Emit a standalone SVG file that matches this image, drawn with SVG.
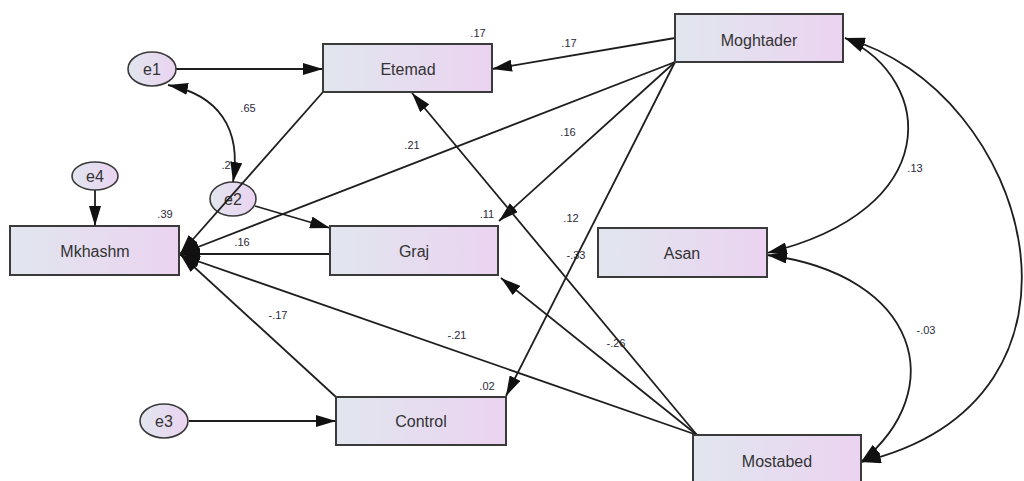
<svg xmlns="http://www.w3.org/2000/svg" width="1024" height="481" viewBox="0 0 1024 481">
<defs>
<linearGradient id="g" x1="0" y1="0" x2="1" y2="0">
<stop offset="0" stop-color="#e1e6ee"/>
<stop offset="1" stop-color="#ebd3f1"/>
</linearGradient>
<marker id="ah" viewBox="0 0 20 12" refX="20" refY="6" markerWidth="20" markerHeight="12" markerUnits="userSpaceOnUse" orient="auto-start-reverse">
<path d="M0,0 L20,6 L0,12 Z" fill="#111"/>
</marker>
</defs>
<style>
.box{fill:url(#g);stroke:#3a3a3a;stroke-width:2}
.ell{fill:url(#g);stroke:#3a3a3a;stroke-width:1.6}
.nt{font-family:"Liberation Sans",Arial,sans-serif;font-size:16px;fill:#333;text-anchor:middle;dominant-baseline:central}
.lb{font-family:"Liberation Sans",Arial,sans-serif;font-size:11px;fill:#2a2a3a;text-anchor:middle;dominant-baseline:central}
.c{fill:none;stroke:#1e1e1e;stroke-width:1.8;marker-end:url(#ah)}
.d{fill:none;stroke:#1e1e1e;stroke-width:1.8;marker-end:url(#ah);marker-start:url(#ah)}
</style>
<rect width="1024" height="481" fill="#fff"/>
<g id="e2"><ellipse class="ell" cx="233" cy="199" rx="23" ry="17"/><text class="nt" x="233" y="199">e2</text></g>
<g id="labels">
<text class="lb" x="478" y="33">.17</text>
<text class="lb" x="248" y="108">.65</text>
<text class="lb" x="226" y="165" fill="#6a5a40">.2</text>
<text class="lb" x="165" y="214">.39</text>
<text class="lb" x="242" y="242">.16</text>
<text class="lb" x="487" y="214">.11</text>
<text class="lb" x="569" y="43">.17</text>
<text class="lb" x="412" y="145">.21</text>
<text class="lb" x="568" y="132">.16</text>
<text class="lb" x="571" y="218">.12</text>
<text class="lb" x="576" y="255">-.33</text>
<text class="lb" x="616" y="343">-.26</text>
<text class="lb" x="278" y="315">-.17</text>
<text class="lb" x="457" y="335">-.21</text>
<text class="lb" x="487" y="386">.02</text>
<text class="lb" x="915" y="168">.13</text>
<text class="lb" x="926" y="330">-.03</text>
</g>
<g id="connectors">
<path class="c" d="M176,69 L323,69"/>
<path class="c" d="M189,421 L336,421"/>
<path class="c" d="M95,190 L95,226"/>
<path class="c" d="M255,206 L330,228"/>
<path class="d" d="M168,85 C218,95 242,128 233,182"/>
<path class="c" d="M675,38 L492,69"/>
<path class="c" d="M675,62 L180,254"/>
<path class="c" d="M675,62 L499,221"/>
<path class="c" d="M675,62 L506,396"/>
<path class="c" d="M323,92 L180,254"/>
<path class="c" d="M330,254 L180,254"/>
<path class="c" d="M336,397 L180,254"/>
<path class="c" d="M697,435 L180,255"/>
<path class="c" d="M697,435 L501,278"/>
<path class="c" d="M697,435 L412,93"/>
<path class="d" d="M845,38 C935,80 945,210 767,253"/>
<path class="d" d="M767,255 C920,275 950,390 861,462"/>
<path class="d" d="M845,38 C1030,90 1120,400 861,462"/>
</g>
<g id="e1"><ellipse class="ell" cx="152" cy="69" rx="24" ry="17"/><text class="nt" x="152" y="69">e1</text></g>
<g id="e3"><ellipse class="ell" cx="164" cy="421" rx="24" ry="17"/><text class="nt" x="164" y="421">e3</text></g>
<g id="e4"><ellipse class="ell" cx="95" cy="176" rx="23" ry="14"/><text class="nt" x="95" y="176">e4</text></g>
<g id="Etemad"><rect class="box" x="323" y="44" width="169" height="48"/><text class="nt" x="408" y="69">Etemad</text></g>
<g id="Mkhashm"><rect class="box" x="10" y="226" width="169" height="49"/><text class="nt" x="95" y="251">Mkhashm</text></g>
<g id="Graj"><rect class="box" x="330" y="226" width="168" height="49"/><text class="nt" x="414" y="251">Graj</text></g>
<g id="Control"><rect class="box" x="336" y="397" width="170" height="48"/><text class="nt" x="421" y="421">Control</text></g>
<g id="Moghtader"><rect class="box" x="675" y="14" width="168" height="48"/><text class="nt" x="759" y="40">Moghtader</text></g>
<g id="Asan"><rect class="box" x="598" y="228" width="169" height="49"/><text class="nt" x="682" y="253">Asan</text></g>
<g id="Mostabed"><rect class="box" x="693" y="435" width="168" height="48"/><text class="nt" x="777" y="461">Mostabed</text></g>
</svg>
